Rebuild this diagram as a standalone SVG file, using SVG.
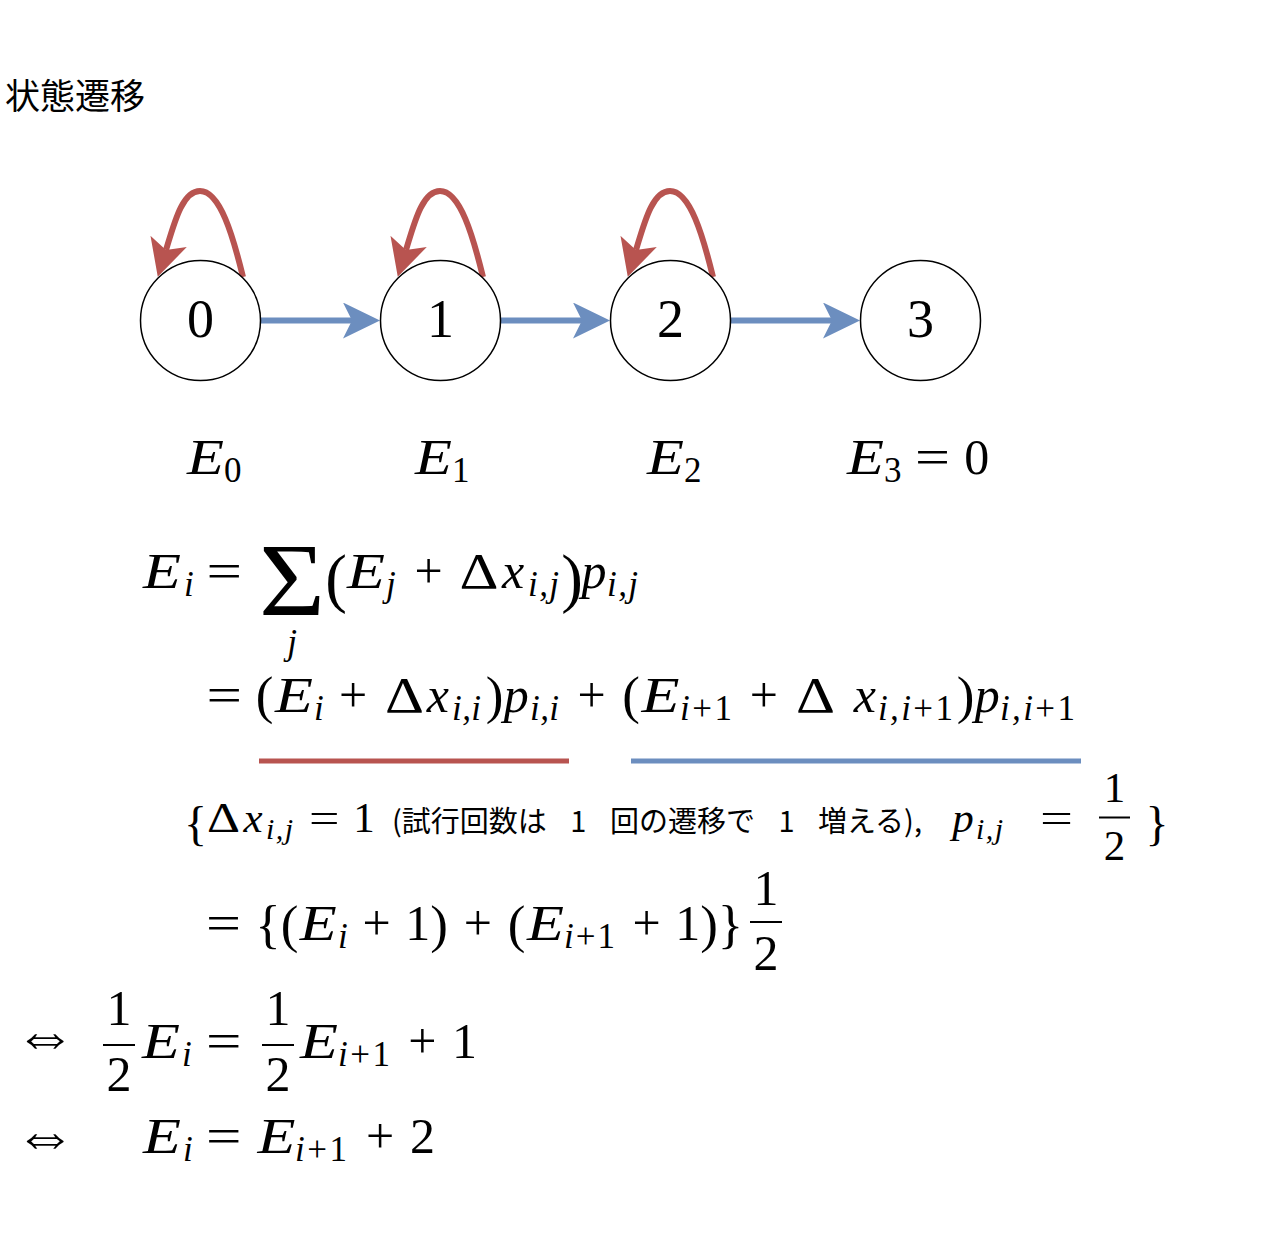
<svg xmlns="http://www.w3.org/2000/svg" width="1280" height="1240" viewBox="0 0 1280 1240">
<style>
.m,.mi,.s,.si{font-family:"Liberation Serif","Times New Roman",Times,"DejaVu Serif",serif;fill:#000}
.m{font-size:50px}
.mi{font-style:italic;font-size:50px}
.s{font-size:35px}
.si{font-style:italic;font-size:35px}
.up{font-style:normal}
.c{text-anchor:middle}
.m3{font-size:43px}
.s3{font-size:30px}
.jp{font-family:"Noto Sans CJK JP","Noto Sans",sans-serif;fill:#000}
.t3{font-size:29px;word-spacing:17px}
.arr{font-family:"DejaVu Sans",sans-serif;font-weight:200;font-size:62px;text-anchor:middle;fill:#000}
.node circle{fill:#fff;stroke:#000;stroke-width:1.5}
.node text{font-family:"Liberation Serif","Times New Roman","DejaVu Serif",serif;font-size:54px;text-anchor:middle;fill:#000}
.blue{fill:none;stroke:#6c8ebf;stroke-width:6}
.red{fill:none;stroke:#b85450;stroke-width:6}
</style>
<defs>
<marker id="ab" markerUnits="userSpaceOnUse" markerWidth="37" markerHeight="36" viewBox="0 0 37 36" refX="9" refY="18" orient="auto"><path d="M0,0 L37,18 L0,36 L9,18 Z" fill="#6c8ebf"/></marker>
<marker id="ar" markerUnits="userSpaceOnUse" markerWidth="37" markerHeight="38" viewBox="0 0 37 38" refX="9" refY="19" orient="auto"><path d="M0,0 L37,19 L0,38 L9,19 Z" fill="#b85450"/></marker>
</defs>
<rect width="1280" height="1240" fill="#fff"/>

<text class="jp" x="5" y="109" font-size="35">状態遷移</text>

<g id="connectors">
<path class="blue" d="M260.5,320.5 L352,320.5" marker-end="url(#ab)"/>
<path class="blue" d="M500.5,320.5 L582,320.5" marker-end="url(#ab)"/>
<path class="blue" d="M730.5,320.5 L832,320.5" marker-end="url(#ab)"/>
<path class="red" d="M243,277 C233,236 220,191 200,191 C182,191 174,224 166,250" marker-end="url(#ar)"/>
<path class="red" d="M483,277 C473,236 460,191 440,191 C422,191 414,224 406,250" marker-end="url(#ar)"/>
<path class="red" d="M713,277 C703,236 690,191 670,191 C652,191 644,224 636,250" marker-end="url(#ar)"/>
</g>

<g id="node0" class="node"><circle cx="200.5" cy="320.5" r="60"/><text x="200.5" y="337">0</text></g>
<g id="node1" class="node"><circle cx="440.5" cy="320.5" r="60"/><text x="440.5" y="337">1</text></g>
<g id="node2" class="node"><circle cx="670.5" cy="320.5" r="60"/><text x="670.5" y="337">2</text></g>
<g id="node3" class="node"><circle cx="920.5" cy="320.5" r="60"/><text x="920.5" y="337">3</text></g>

<g id="labels">
<text class="mi" x="187" y="474" textLength="37" lengthAdjust="spacingAndGlyphs">E</text><text class="s" x="224" y="482">0</text>
<text class="mi" x="415" y="474" textLength="37" lengthAdjust="spacingAndGlyphs">E</text><text class="s" x="452" y="482">1</text>
<text class="mi" x="647" y="474" textLength="37" lengthAdjust="spacingAndGlyphs">E</text><text class="s" x="684" y="482">2</text>
<text class="mi" x="847" y="474" textLength="37" lengthAdjust="spacingAndGlyphs">E</text><text class="s" x="884" y="482">3</text>
<text class="m" x="915" y="474" textLength="35" lengthAdjust="spacingAndGlyphs">=</text>
<text class="m c" x="976.7" y="474">0</text>
</g>

<g id="eq1">
<text class="mi" x="143" y="588" textLength="38" lengthAdjust="spacingAndGlyphs">E</text>
<text class="si" x="184" y="596">i</text>
<text class="m" x="206.5" y="588" textLength="35.5" lengthAdjust="spacingAndGlyphs">=</text>
<text class="m" x="259" y="615" style="font-size:104px" textLength="66" lengthAdjust="spacingAndGlyphs">Σ</text>
<text class="si c" x="292" y="654">j</text>
<text class="m c" x="336" y="600" style="font-size:65px">(</text>
<text class="mi" x="347" y="588" textLength="38" lengthAdjust="spacingAndGlyphs">E</text>
<text class="si" x="386" y="596">j</text>
<text class="m c" x="428.5" y="588">+</text>
<text class="m" x="459.5" y="588" textLength="39" lengthAdjust="spacingAndGlyphs">Δ</text>
<text class="mi c" x="513.2" y="588">x</text>
<text class="si" x="528" y="596" textLength="31">i,j</text>
<text class="m c" x="572.2" y="600" style="font-size:65px">)</text>
<text class="mi c" x="594" y="588">p</text>
<text class="si" x="607" y="596" textLength="31">i,j</text>
</g>

<g id="eq2">
<text class="m" x="206.5" y="712" textLength="35.5" lengthAdjust="spacingAndGlyphs">=</text>
<text class="m c" x="264.5" y="713" style="font-size:53px">(</text>
<text class="mi" x="275" y="712" textLength="38" lengthAdjust="spacingAndGlyphs">E</text>
<text class="si" x="314" y="720">i</text>
<text class="m c" x="353" y="712">+</text>
<text class="m" x="385" y="712" textLength="39" lengthAdjust="spacingAndGlyphs">Δ</text>
<text class="mi c" x="437.8" y="712">x</text>
<text class="si" x="452" y="720" textLength="29">i,i</text>
<text class="m c" x="494.5" y="713" style="font-size:53px">)</text>
<text class="mi c" x="516.3" y="712">p</text>
<text class="si" x="530" y="720" textLength="29">i,i</text>
<text class="m c" x="591.7" y="712">+</text>
<text class="m c" x="631.2" y="713" style="font-size:53px">(</text>
<text class="mi" x="641.5" y="712" textLength="38" lengthAdjust="spacingAndGlyphs">E</text>
<text class="si" x="680" y="720" textLength="52">i<tspan class="up">+1</tspan></text>
<text class="m c" x="763.8" y="712">+</text>
<text class="m" x="796" y="712" textLength="39" lengthAdjust="spacingAndGlyphs">Δ</text>
<text class="mi c" x="864.9" y="712">x</text>
<text class="si" x="878" y="720" textLength="75">i,i<tspan class="up">+1</tspan></text>
<text class="m c" x="965.5" y="713" style="font-size:53px">)</text>
<text class="mi c" x="987.3" y="712">p</text>
<text class="si" x="1000" y="720" textLength="75">i,i<tspan class="up">+1</tspan></text>
</g>

<g id="underlines">
<rect x="259" y="758.5" width="310" height="5" fill="#b85450"/>
<rect x="631" y="758.5" width="450" height="5" fill="#6c8ebf"/>
</g>

<g id="eq3">
<text class="m c" x="195.5" y="840" style="font-size:48px">{</text>
<text class="m m3" x="207" y="832" textLength="33" lengthAdjust="spacingAndGlyphs">Δ</text>
<text class="mi m3 c" x="253" y="832">x</text>
<text class="si s3" x="266" y="839" textLength="27">i,j</text>
<text class="m m3" x="309" y="832" textLength="30.5" lengthAdjust="spacingAndGlyphs">=</text>
<text class="m m3 c" x="364" y="832">1</text>
<text class="jp t3" x="392" y="832">(試行回数は 1 回の遷移で 1 増える),</text>
<text class="mi m3 c" x="963" y="832">p</text>
<text class="si s3" x="976" y="839" textLength="27">i,j</text>
<text class="m m3" x="1040" y="832" textLength="33" lengthAdjust="spacingAndGlyphs">=</text>
<text class="m m3 c" x="1114.5" y="802">1</text>
<rect x="1099" y="816.5" width="31" height="2" fill="#000"/>
<text class="m m3 c" x="1114.5" y="860">2</text>
<text class="m c" x="1157" y="840" style="font-size:48px">}</text>
</g>

<g id="eq4">
<text class="m" x="206" y="940" textLength="35" lengthAdjust="spacingAndGlyphs">=</text>
<text class="m c" x="268.1" y="942" style="font-size:53px">{</text>
<text class="m c" x="289.5" y="942" style="font-size:53px">(</text>
<text class="mi" x="299.8" y="940" textLength="37" lengthAdjust="spacingAndGlyphs">E</text>
<text class="si" x="338" y="948">i</text>
<text class="m c" x="376.5" y="940">+</text>
<text class="m c" x="417.8" y="940">1</text>
<text class="m c" x="439.2" y="942" style="font-size:53px">)</text>
<text class="m c" x="477.9" y="940">+</text>
<text class="m c" x="516.6" y="942" style="font-size:53px">(</text>
<text class="mi" x="526.9" y="940" textLength="37" lengthAdjust="spacingAndGlyphs">E</text>
<text class="si" x="564" y="948" textLength="51">i<tspan class="up">+1</tspan></text>
<text class="m c" x="646.5" y="940">+</text>
<text class="m c" x="687.8" y="940">1</text>
<text class="m c" x="709.2" y="942" style="font-size:53px">)</text>
<text class="m c" x="730.5" y="942" style="font-size:53px">}</text>
<text class="m c" x="766" y="905">1</text>
<rect x="750" y="921" width="32" height="2" fill="#000"/>
<text class="m c" x="766" y="970">2</text>
</g>

<g id="eq5">
<text class="arr" x="45" y="1056">⇔</text>
<text class="m c" x="119" y="1025">1</text>
<rect x="103" y="1044" width="32" height="2" fill="#000"/>
<text class="m c" x="119" y="1091">2</text>
<text class="mi" x="142" y="1058" textLength="38" lengthAdjust="spacingAndGlyphs">E</text>
<text class="si" x="182" y="1066">i</text>
<text class="m" x="206" y="1058" textLength="35.5" lengthAdjust="spacingAndGlyphs">=</text>
<text class="m c" x="278" y="1025">1</text>
<rect x="262" y="1044" width="32" height="2" fill="#000"/>
<text class="m c" x="278" y="1091">2</text>
<text class="mi" x="300" y="1058" textLength="38" lengthAdjust="spacingAndGlyphs">E</text>
<text class="si" x="338" y="1066" textLength="52">i<tspan class="up">+1</tspan></text>
<text class="m c" x="422.3" y="1058">+</text>
<text class="m c" x="464.5" y="1058">1</text>
</g>

<g id="eq6">
<text class="arr" x="45" y="1156">⇔</text>
<text class="mi" x="143" y="1153" textLength="38" lengthAdjust="spacingAndGlyphs">E</text>
<text class="si" x="183" y="1161">i</text>
<text class="m" x="206" y="1153" textLength="35.5" lengthAdjust="spacingAndGlyphs">=</text>
<text class="mi" x="257.5" y="1153" textLength="38" lengthAdjust="spacingAndGlyphs">E</text>
<text class="si" x="295" y="1161" textLength="52">i<tspan class="up">+1</tspan></text>
<text class="m c" x="380.2" y="1153">+</text>
<text class="m c" x="422.5" y="1153">2</text>
</g>
</svg>
